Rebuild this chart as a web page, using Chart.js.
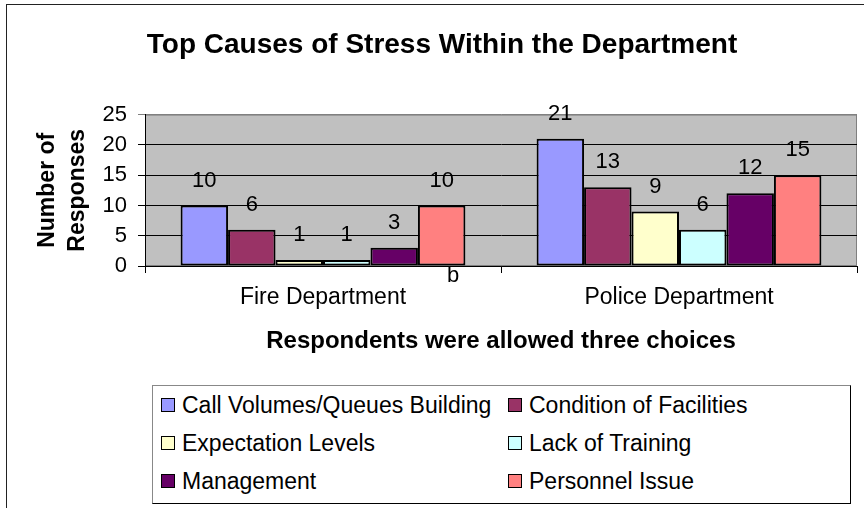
<!DOCTYPE html>
<html>
<head>
<meta charset="utf-8">
<title>Top Causes of Stress Within the Department</title>
<script src="https://cdn.jsdelivr.net/npm/chart.js@4.4.1/dist/chart.umd.min.js"></script>
<style>
  html, body { margin: 0; padding: 0; background: #fff; }
  #wrap { position: relative; width: 864px; height: 508px; overflow: hidden; }
  #frame { position: absolute; left: 6px; top: 4px; width: 900px; height: 600px; border: 1px solid #222; }
  #stressChart { position: absolute; left: 0; top: 0; }
  #legend {
    position: absolute; left: 152px; top: 385px; width: 697px; height: 117px;
    border: 1px solid #000; border-top-color: #888; border-left-color: #888;
    background: #fff;
  }
  .item {
    position: absolute; display: flex; align-items: center;
    font: 23px Arial, "Liberation Sans", sans-serif; color: #000; white-space: nowrap;
    height: 26px;
  }
  .sw { width: 12px; height: 12px; border: 1px solid #000; margin-right: 7px; }
</style>
</head>
<body>
<div id="wrap">
  <div id="frame"></div>
  <canvas id="stressChart" width="864" height="508"></canvas>
  <div id="legend"></div>
</div>
<script>
const categories = ["Fire Department", "Police Department"];
const seriesNames = [
  "Call Volumes/Queues Building",
  "Condition of Facilities",
  "Expectation Levels",
  "Lack of Training",
  "Management",
  "Personnel Issue",
];
const callVolumes = [10, 21];
const facilities = [6, 13];
const expectation = [1, 9];
const training = [1, 6];
const management = [3, 12];
const personnel = [10, 15];
const seriesColors = ["#9999FF", "#993366", "#FFFFCC", "#CCFFFF", "#660066", "#FF8080"];

const allValues = [callVolumes, facilities, expectation, training, management, personnel];
const font = 'Arial, "Liberation Sans", sans-serif';

Chart.defaults.color = "#000";
Chart.defaults.font.family = font;

// gray plot area like the old Excel default
const plotBg = {
  id: "plotBg",
  beforeDraw(chart) {
    const { ctx, chartArea: a } = chart;
    ctx.save();
    ctx.fillStyle = "#C0C0C0";
    ctx.fillRect(a.left, a.top, a.right - a.left, a.bottom - a.top);
    ctx.strokeStyle = "#808080";
    ctx.lineWidth = 1;
    ctx.strokeRect(a.left + 0.5, a.top + 0.5, a.right - a.left - 1, a.bottom - a.top - 1);
    ctx.restore();
  },
};

const valueLabels = {
  id: "valueLabels",
  afterDatasetsDraw(chart) {
    const ctx = chart.ctx;
    ctx.save();
    ctx.font = "22px " + font;
    ctx.fillStyle = "#000";
    ctx.textAlign = "center";
    ctx.textBaseline = "middle";
    chart.data.datasets.forEach((ds, i) => {
      chart.getDatasetMeta(i).data.forEach((bar, j) => {
        ctx.fillText(ds.data[j], bar.x, bar.y - 25);
      });
    });
    // stray label left in the original sheet
    ctx.fillText("b", 453, 276);
    ctx.restore();
  },
};

new Chart("stressChart", {
  type: "bar",
  data: {
    labels: categories,
    datasets: seriesNames.map((name, i) => ({
      label: name,
      data: allValues[i],
      backgroundColor: seriesColors[i],
      borderColor: "#000",
      borderWidth: 2,
      borderSkipped: false,
      categoryPercentage: 0.8,
      barPercentage: 1.0,
    })),
  },
  options: {
    responsive: false,
    animation: false,
    layout: { padding: { left: 27, right: 7, top: 0, bottom: 148 } },
    plugins: {
      legend: { display: false },
      tooltip: { enabled: false },
      title: {
        display: true,
        text: "Top Causes of Stress Within the Department",
        font: { size: 28, weight: "bold" },
        color: "#000",
        padding: { top: 28, bottom: 53 },
      },
    },
    scales: {
      x: {
        afterFit(scale) { scale.height = 94; },
        grid: { display: true, drawOnChartArea: false, offset: true, color: "#000", tickLength: 7 },
        border: { display: true, color: "#000", width: 1 },
        ticks: { font: { size: 23 }, padding: 11, color: "#000" },
        title: {
          display: true,
          text: "Respondents were allowed three choices",
          font: { size: 24, weight: "bold" },
          color: "#000",
          padding: { top: 0, bottom: 4 },
        },
      },
      y: {
        min: 0,
        max: 25,
        afterFit(scale) { scale.width = 118; },
        ticks: { stepSize: 5, font: { size: 22 }, padding: 11, color: "#000" },
        grid: {
          color: (c) => (c.tick && c.tick.value === 25 ? "#808080" : "#000"),
          tickLength: 7,
        },
        border: { display: true, color: "#000", width: 1 },
        title: {
          display: true,
          text: ["Number of", "Responses"],
          font: { size: 23, weight: "bold", lineHeight: "30px" },
          color: "#000",
          padding: { top: 6, bottom: 0 },
        },
      },
    },
  },
  plugins: [plotBg, valueLabels],
});

// legend: two columns, three rows, like the Excel legend box
const legend = document.getElementById("legend");
const colX = [8, 355];
const rowY = [6, 44, 82];
seriesNames.forEach((name, i) => {
  const item = document.createElement("div");
  item.className = "item";
  item.style.left = colX[i % 2] + "px";
  item.style.top = rowY[Math.floor(i / 2)] + "px";
  item.innerHTML = '<span class="sw" style="background:' + seriesColors[i] + '"></span>' + name;
  legend.appendChild(item);
});
</script>
</body>
</html>
